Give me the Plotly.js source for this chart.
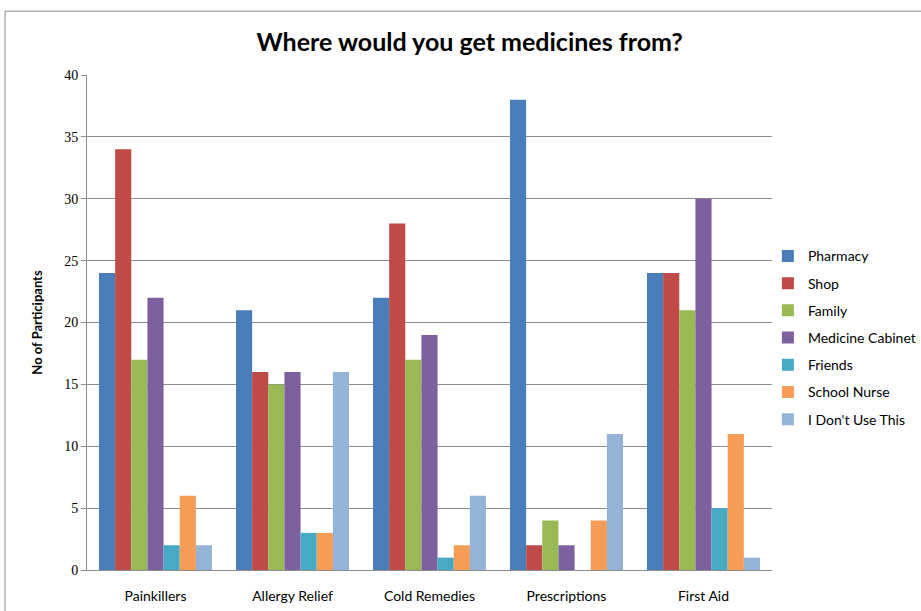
<!DOCTYPE html>
<html>
<head>
<meta charset="utf-8">
<script src="https://cdn.plot.ly/plotly-3.0.1.min.js"></script>
<style>html,body{margin:0;padding:0;background:#fff;}#chart{width:921px;height:611px;}</style>
</head>
<body>
<div id="chart"></div>
<script>
const categories = ["Painkillers", "Allergy Relief", "Cold Remedies", "Prescriptions", "First Aid"];
const seriesNames = ["Pharmacy", "Shop", "Family", "Medicine Cabinet", "Friends", "School Nurse", "I Don't Use This"];
const pharmacy = [24, 21, 22, 38, 24];
const shop = [34, 16, 28, 2, 24];
const family = [17, 15, 17, 4, 21];
const medicineCabinet = [22, 16, 19, 2, 30];
const friends = [2, 3, 1, 0, 5];
const schoolNurse = [6, 3, 2, 4, 11];
const dontUse = [2, 16, 6, 11, 1];
const colors = ["#4A7EBB", "#BE4B48", "#98B954", "#7D60A0", "#46AAC5", "#F59D56", "#95B3D7"];
const values = [pharmacy, shop, family, medicineCabinet, friends, schoolNurse, dontUse];

const traces = values.map((v, i) => ({
  type: "bar",
  name: seriesNames[i],
  x: categories,
  y: v,
  marker: {color: colors[i], line: {width: 0}},
  legendgroup: "g" + i
}));

const layout = {
  width: 921, height: 611,
  margin: {l: 87, r: 149, t: 75, b: 41, autoexpand: false},
  paper_bgcolor: "#fff", plot_bgcolor: "#fff",
  barmode: "group", bargap: 0.175, bargroupgap: 0,
  title: {text: "Where would you get medicines from?", x: 0.51, xref: "container", y: 0.931, yanchor: "middle",
          font: {family: "Lato, 'Open Sans', sans-serif", size: 25, color: "#000", weight: "bold"}},
  xaxis: {
    showgrid: false, showline: true, linecolor: "#8c8c8c", linewidth: 1,
    ticks: "", tickfont: {family: "Lato, sans-serif", size: 14, color: "#000"},
    ticklabelstandoff: 13
  },
  yaxis: {
    range: [0, 40], dtick: 5, showgrid: true, gridcolor: "#8c8c8c", gridwidth: 1,
    showline: true, linecolor: "#8c8c8c", linewidth: 1, ticks: "outside", ticklen: 5, tickcolor: "#8c8c8c",
    tickfont: {family: "'Liberation Serif', 'DejaVu Serif', serif", size: 14, color: "#000"},
    zeroline: false,
    title: {text: "No of Participants", standoff: 18, font: {family: "Lato, sans-serif", size: 13, color: "#000", weight: "bold"}}
  },
  legend: {
    x: 0.994, xanchor: "left", y: 0.666, yanchor: "top",
    font: {family: "Lato, sans-serif", size: 14, color: "#000"},
    traceorder: "grouped", tracegroupgap: 6, itemwidth: 30,
    bgcolor: "rgba(0,0,0,0)"
  },
  shapes: [{type: "rect", xref: "paper", yref: "paper", x0: -0.1197, x1: 1.3, y0: -0.1, y1: 1.129,
            line: {color: "#8c8c8c", width: 1}, fillcolor: "rgba(0,0,0,0)", layer: "below"}],
  showlegend: true
};

Plotly.newPlot("chart", traces, layout, {displayModeBar: false});
</script>
</body>
</html>
